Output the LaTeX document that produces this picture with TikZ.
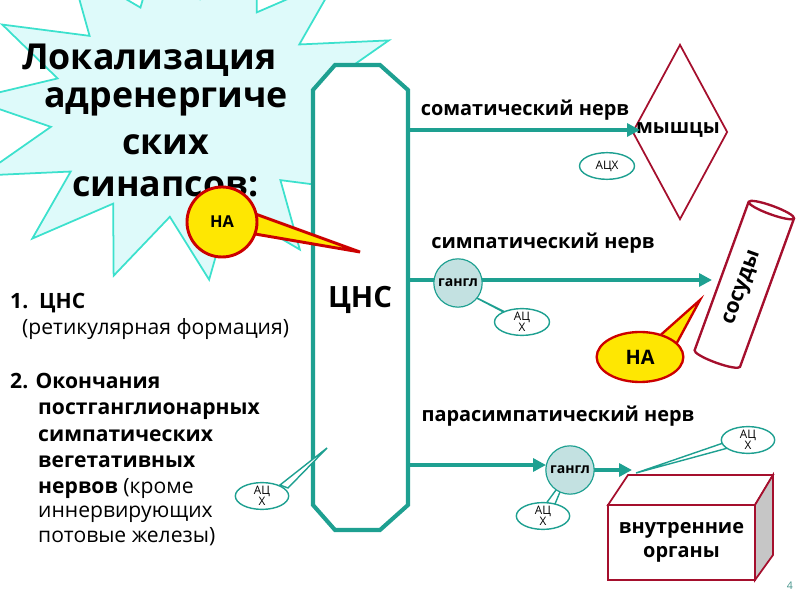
\documentclass[tikz,border=0pt]{standalone}
\usepackage{fontspec}
\setmainfont{Open Sans}
\usetikzlibrary{shapes.geometric,positioning,arrows.meta}
\definecolor{teal1}{RGB}{30,160,145}
\definecolor{turq}{RGB}{60,225,205}
\definecolor{skyc}{RGB}{222,250,250}
\definecolor{darkred}{RGB}{165,15,45}
\definecolor{gang}{RGB}{195,225,225}
\tikzset{
 nerve/.style={teal1,line width=3pt,-{Triangle[length=11pt,width=11pt]}},
 lbl/.style={font=\fontsize{17}{18}\selectfont\bfseries,inner sep=0pt},
 gangl/.style={circle,draw=teal1,fill=gang,line width=1pt,minimum size=1.45cm,inner sep=0pt,font=\fontsize{12}{12}\selectfont\bfseries},
 ach/.style={ellipse,draw=teal1,fill=white,line width=1.2pt,minimum width=1.65cm,minimum height=0.8cm,inner sep=0pt,font=\fontsize{10}{9}\selectfont,align=center},
 tail/.style={draw=teal1,fill=white,line width=1.2pt},
 na/.style={draw=red!80!black,fill=yellow!90!orange,line width=2.5pt},
 ltxt/.style={anchor=base west,inner sep=0pt,font=\fontsize{18}{20}\selectfont},
 ttl/.style={anchor=west,inner sep=0pt,font=\fontsize{30.5}{32}\selectfont\bfseries}
}
\begin{document}
\begin{tikzpicture}[x=0.03cm,y=-0.03cm]
 \useasboundingbox (0,0) rectangle (800,600);
 % starburst
 \begin{scope}
 \clip (0,0) rectangle (800,600);
 \node[star,star points=14,star point ratio=1.6,minimum size=13cm,draw=turq,fill=skyc,line width=1.5pt,rotate=8,yscale=0.8] (burst) at (185,108) {};
 \end{scope}
 \node[ttl] (t1) at (22,60) {Локализация};
 \node[ttl] (t2) at (44,102) {адренергиче};
 \node[ttl] (t3) at (122,145) {ских};
 \node[ttl] (t4) at (72,187) {синапсов:};
 % CNS body
 \draw[teal1,line width=3.5pt,fill=white] (313,90) -- (335,65) -- (380,65) -- (408,90) -- (408,505) -- (380,530) -- (335,530) -- (313,505) -- cycle;
 \node[font=\fontsize{25}{28}\selectfont\bfseries] (cns) at (360,300) {ЦНС};
 % HA top
 \fill[na] (250,212) -- (360,252) -- (255,234) -- cycle;
 \node[circle,na,minimum size=2.1cm,inner sep=0pt,font=\fontsize{14}{16}\selectfont\bfseries] (na1) at (222,222) {НА};
 % somatic
 \node[diamond,draw=darkred,line width=1.5pt,minimum width=2.85cm,minimum height=5.25cm,inner sep=0pt] (mus) at (680,132) {};
 \node[lbl] (musl) at (678,130) {мышцы};
 \coordinate (s0) at (408,130);
 \draw[nerve] (s0) -- (640,130);
 \node[lbl] (somt) at (525,110) {соматический нерв};
 \node[ach,minimum width=1.65cm,minimum height=0.8cm] (a1) at (607,166) {АЦХ};
 % sympathetic
 \node[lbl] (symt) at (543,243) {симпатический нерв};
 \coordinate (y0) at (408,280);
 \coordinate (y1) at (712,280);
 \draw[nerve] (y0) -- (y1);
 \node[cylinder,draw=darkred,fill=white,line width=2pt,aspect=0.35,rotate=70,minimum height=5cm,minimum width=1.45cm,font=\fontsize{18}{20}\selectfont\bfseries] (ves) at (743,288) {сосуды};
 \draw[tail] (465,292) -- (505,312) -- (515,318) -- cycle;
 \node[ach] (a2) at (522,322) {АЦ\\Х};
 \node[gangl] (g1) at (458,283) {гангл};
 \fill[na,line width=2pt] (655,340) -- (700,300) -- (672,352) -- cycle;
 \node[ellipse,na,line width=2pt,minimum width=2.6cm,minimum height=1.5cm,inner sep=0pt,font=\fontsize{17}{18}\selectfont\bfseries] (na2) at (640,357) {НА};
 % parasympathetic
 \node[lbl] (part) at (558,416) {парасимпатический нерв};
 \coordinate (p0) at (408,465);
 \draw[nerve] (p0) -- (546,465);
 \draw[nerve] (592,470) -- (632,470);
 % organs box
 \draw[darkred,line width=1.5pt,fill=white] (608,505) -- (628,475) -- (773,475) -- (755,505) -- cycle;
 \draw[darkred,line width=1.5pt,fill=gray!45] (755,505) -- (773,475) -- (773,555) -- (755,580) -- cycle;
 \node[draw=darkred,line width=1.5pt,fill=white,minimum width=4.4cm,minimum height=2.25cm,align=center,inner sep=0pt,font=\fontsize{17}{21}\selectfont\bfseries] (org) at (681.5,542.5) {внутренние\\органы};
 \draw[tail] (636,473) -- (728,448) -- (732,440) -- cycle;
 \node[ach,minimum width=1.6cm] (a3) at (748,440) {АЦ\\Х};
 \draw[tail] (567,475) -- (545,505) -- (555,504) -- cycle;
 \node[ach,minimum width=1.6cm] (a4) at (543,516) {АЦ\\Х};
 \node[gangl] (g2) at (570,470) {гангл};
 % left ACh
 \draw[tail] (327,448) -- (280,485) -- (288,488) -- cycle;
 \node[ach,minimum width=1.6cm] (a5) at (262,496) {АЦ\\Х};
 % left list
 \node[ltxt,font=\fontsize{18}{20}\selectfont\bfseries] (l1) at (10,309) {1.\ \ ЦНС};
 \node[ltxt] (l2) at (22,335) {(ретикулярная формация)};
 \node[ltxt,font=\fontsize{18}{20}\selectfont\bfseries] (l3) at (10,389) {2. Окончания};
 \node[ltxt,font=\fontsize{18}{20}\selectfont\bfseries] (l4) at (38,415) {постганглионарных};
 \node[ltxt,font=\fontsize{18}{20}\selectfont\bfseries] (l5) at (38,442) {симпатических};
 \node[ltxt,font=\fontsize{18}{20}\selectfont\bfseries] (l6) at (38,468) {вегетативных};
 \node[ltxt] (l7) at (38,494) {\textbf{нервов} (кроме};
 \node[ltxt] (l8) at (38,518) {иннервирующих};
 \node[ltxt] (l9) at (38,543) {потовые железы)};
 \node[font=\fontsize{9}{9}\selectfont,text=teal1!60!gray] (pg) at (790,586) {4};
\end{tikzpicture}
\end{document}
